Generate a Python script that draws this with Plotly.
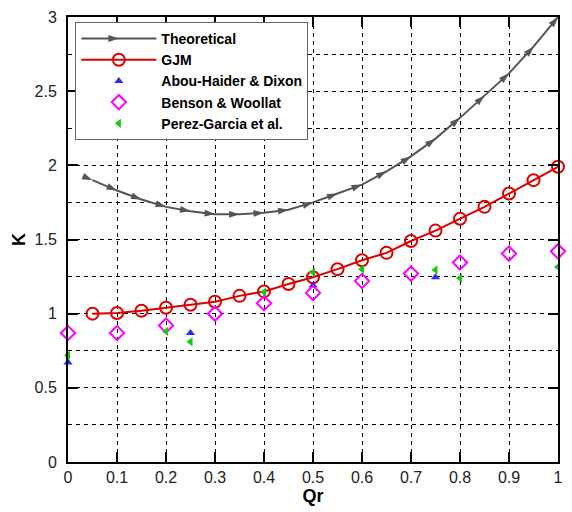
import math
import plotly.graph_objects as go

# Flow ratio Qr against loss coefficient K
qr_model = [0.05, 0.10, 0.15, 0.20, 0.25, 0.30, 0.35, 0.40, 0.45, 0.50,
            0.55, 0.60, 0.65, 0.70, 0.75, 0.80, 0.85, 0.90, 0.95, 1.00]
k_theoretical = [1.90, 1.83, 1.77, 1.72, 1.69, 1.67, 1.67, 1.68, 1.70, 1.75,
                 1.81, 1.87, 1.96, 2.06, 2.18, 2.32, 2.47, 2.62, 2.80, 3.00]
k_gjm = [1.00, 1.005, 1.02, 1.04, 1.06, 1.08, 1.12, 1.15, 1.20, 1.245,
         1.30, 1.36, 1.41, 1.49, 1.56, 1.64, 1.72, 1.81, 1.90, 1.99]

qr_abou = [0.0, 0.25, 0.5, 0.75]
k_abou = [0.67, 0.87, 1.19, 1.245]

qr_benson = [0.0, 0.1, 0.2, 0.3, 0.4, 0.5, 0.6, 0.7, 0.8, 0.9, 1.0]
k_benson = [0.87, 0.87, 0.92, 1.00, 1.07, 1.14, 1.22, 1.27, 1.345, 1.405, 1.42]

qr_perez = [0.0, 0.2, 0.25, 0.4, 0.5, 0.6, 0.75, 0.8, 1.0]
k_perez = [0.72, 0.88, 0.81, 1.145, 1.28, 1.30, 1.295, 1.24, 1.315]

x_ticks = [0, 0.1, 0.2, 0.3, 0.4, 0.5, 0.6, 0.7, 0.8, 0.9, 1]
x_labels = ["0", "0.1", "0.2", "0.3", "0.4", "0.5", "0.6", "0.7", "0.8", "0.9", "1"]
y_ticks = [0, 0.5, 1, 1.5, 2, 2.5, 3]
y_labels = ["0", "0.5", "1", "1.5", "2", "2.5", "3"]

W, H = 572, 512
M = dict(l=68, r=9, t=10, b=49)
X_RANGE, Y_RANGE = (0, 1), (0, 3)

# Orient each arrow marker along the curve (screen space), clockwise from up
px_per_x = (W - M["l"] - M["r"]) / (X_RANGE[1] - X_RANGE[0])
px_per_y = (H - M["t"] - M["b"]) / (Y_RANGE[1] - Y_RANGE[0])
arrow_angles = []
for i in range(len(qr_model)):
    j0, j1 = (i - 1, i) if i > 0 else (0, 1)
    dx = (qr_model[j1] - qr_model[j0]) * px_per_x
    dy = (k_theoretical[j1] - k_theoretical[j0]) * px_per_y
    arrow_angles.append(math.degrees(math.atan2(dx, dy)))

FONT = "Liberation Sans, Arial, sans-serif"
GREY = "#555555"

fig = go.Figure()

fig.add_trace(go.Scatter(
    x=qr_model, y=k_theoretical, name="Theoretical", mode="lines+markers",
    line=dict(color=GREY, width=2),
    marker=dict(symbol="arrow", size=11, color=GREY, angle=arrow_angles),
    cliponaxis=False, showlegend=False, legendgroup="theo",
))
# legend entry for the theoretical curve with a right-pointing arrow
fig.add_trace(go.Scatter(
    x=[None], y=[None], name="Theoretical", mode="lines+markers",
    line=dict(color=GREY, width=2),
    marker=dict(symbol="arrow", size=11, color=GREY, angle=90),
    legendgroup="theo", legendrank=1,
))
fig.add_trace(go.Scatter(
    x=qr_model, y=k_gjm, name="GJM", mode="lines+markers",
    line=dict(color="#dd0000", width=2),
    marker=dict(symbol="circle-open", size=12, color="#dd0000",
                line=dict(width=2, color="#dd0000")),
    cliponaxis=False, legendrank=2,
))
fig.add_trace(go.Scatter(
    x=qr_abou, y=k_abou, name="Abou-Haider & Dixon", mode="markers",
    marker=dict(symbol="triangle-up", size=8, color="#2a2aff"),
    cliponaxis=False, legendrank=3,
))
fig.add_trace(go.Scatter(
    x=qr_benson, y=k_benson, name="Benson & Woollat", mode="markers",
    marker=dict(symbol="diamond-open", size=11, color="#ff00ff",
                line=dict(width=2, color="#ff00ff")),
    cliponaxis=False, legendrank=4,
))
fig.add_trace(go.Scatter(
    x=qr_perez, y=k_perez, name="Perez-Garcia et al.", mode="markers",
    marker=dict(symbol="triangle-left", size=8, color="#11cc11"),
    cliponaxis=False, legendrank=5,
))

grid_dash = "4px,4px"
axis_font = dict(family=FONT, size=16, color="#222222")

fig.update_xaxes(
    range=list(X_RANGE), tickvals=x_ticks, ticktext=x_labels,
    showline=True, linecolor="black", linewidth=2, mirror="ticks",
    ticks="inside", ticklen=10, tickwidth=1.5, tickcolor="black",
    showgrid=True, gridcolor="black", gridwidth=1, griddash=grid_dash,
    zeroline=False, tickfont=axis_font,
    title=dict(text="<b>Qr</b>", standoff=4,
               font=dict(family=FONT, size=18, color="black")),
)
fig.update_yaxes(
    range=list(Y_RANGE), tickvals=y_ticks, ticktext=y_labels,
    showline=True, linecolor="black", linewidth=2, mirror="ticks",
    ticks="inside", ticklen=10, tickwidth=1.5, tickcolor="black",
    showgrid=True, gridcolor="black", gridwidth=1, griddash=grid_dash,
    minor=dict(dtick=0.25, tick0=0, showgrid=True, gridcolor="black",
               gridwidth=1, griddash=grid_dash, ticks=""),
    zeroline=False, tickfont=axis_font, ticklabelstandoff=6,
    title=dict(text="<b>K</b>", standoff=4,
               font=dict(family=FONT, size=18, color="black")),
)

fig.update_layout(
    width=W, height=H,
    margin=M,
    plot_bgcolor="white", paper_bgcolor="white",
    showlegend=True,
    legend=dict(
        x=0.015, y=0.989, xanchor="left", yanchor="top",
        bgcolor="white", bordercolor="#666666", borderwidth=1,
        font=dict(family=FONT, size=14, color="black", weight="bold"),
        itemwidth=75, tracegroupgap=0, groupclick="togglegroup",
    ),
)

fig.write_html("out.html")
